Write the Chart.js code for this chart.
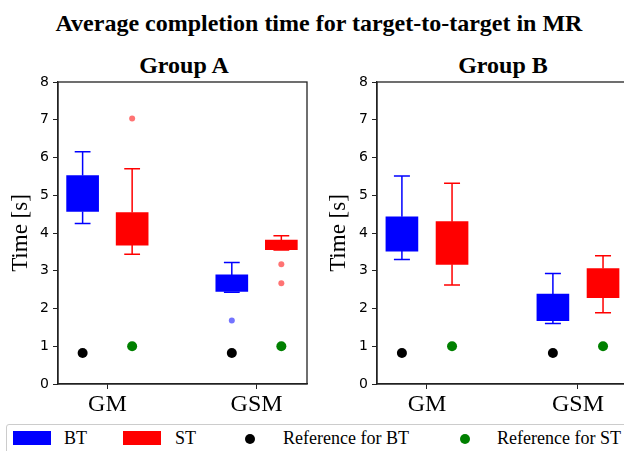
<!DOCTYPE html>
<html>
<head>
<meta charset="utf-8">
<script src="https://cdn.jsdelivr.net/npm/chart.js@4.4.1/dist/chart.umd.min.js"></script>
<style>
  body { margin: 0; width: 624px; height: 451px; overflow: hidden; position: relative; background: #fff; }
  .txt { position: absolute; font-family: 'Liberation Serif', 'Times New Roman', serif; color: #000; white-space: nowrap; }
  canvas { position: absolute; }
  #legend { position: absolute; left: 6px; top: 424px; width: 700px; height: 40px; border: 1px solid #ccc; border-radius: 3px; }
  .sw { position: absolute; }
</style>
</head>
<body>
<div class="txt" style="left:0;width:638px;top:11px;line-height:24px;text-align:center;font-weight:bold;font-size:24px">Average completion time for target-to-target in MR</div>
<div class="txt" style="left:84px;width:200px;top:53px;line-height:24px;text-align:center;font-weight:bold;font-size:24px">Group A</div>
<div class="txt" style="left:403px;width:200px;top:53px;line-height:24px;text-align:center;font-weight:bold;font-size:24px">Group B</div>

<div style="position:absolute;left:0;top:0;width:312px;height:420px"><canvas id="chartA"></canvas></div>
<div style="position:absolute;left:318px;top:0;width:318px;height:420px"><canvas id="chartB"></canvas></div>

<div id="legend"></div>
<div class="sw" style="left:13px;top:431px;width:38px;height:14px;background:#0000ff"></div>
<div class="txt" style="left:64px;top:429px;font-size:18px;line-height:18px">BT</div>
<div class="sw" style="left:123px;top:431px;width:38px;height:14px;background:#ff0000"></div>
<div class="txt" style="left:175px;top:429px;font-size:18px;line-height:18px">ST</div>
<div class="sw" style="left:245px;top:434px;width:10px;height:10px;border-radius:50%;background:#000"></div>
<div class="txt" style="left:283px;top:429px;font-size:18px;line-height:18px">Reference for BT</div>
<div class="sw" style="left:460px;top:434px;width:10px;height:10px;border-radius:50%;background:#008000"></div>
<div class="txt" style="left:497px;top:429px;font-size:18px;line-height:18px">Reference for ST</div>

<script>
const categories = ['GM', 'GSM'];
const yTicks = [0, 1, 2, 3, 4, 5, 6, 7, 8];

// Group A
const aBtLow = [4.25, 2.43];
const aBtQ1 = [4.57, 2.45];
const aBtQ3 = [5.52, 2.89];
const aBtHigh = [6.15, 3.22];
const aBtOutliers = [[], [1.68]];
const aStLow = [3.44, 3.55];
const aStQ1 = [3.68, 3.56];
const aStQ3 = [4.54, 3.81];
const aStHigh = [5.70, 3.93];
const aStOutliers = [[7.03], [3.17, 2.67]];

// Group B
const bBtLow = [3.30, 1.60];
const bBtQ1 = [3.52, 1.68];
const bBtQ3 = [4.43, 2.38];
const bBtHigh = [5.51, 2.93];
const bBtOutliers = [[], []];
const bStLow = [2.62, 1.89];
const bStQ1 = [3.17, 2.29];
const bStQ3 = [4.30, 3.06];
const bStHigh = [5.32, 3.40];
const bStOutliers = [[], []];

// reference times
const refBt = [0.82, 0.82];
const refSt = [1.0, 1.0];

const BLUE = '#0000ff';
const RED = '#ff0000';
const shift = 0.166;
const capHalf = 0.053;

function boxData(q1, q3, dx) {
  return q1.map((v, i) => ({ x: i + dx, y: [v, q3[i]] }));
}

function whiskerData(lo, q1, q3, hi, dx) {
  const pts = [];
  lo.forEach((v, i) => {
    const x = i + dx;
    pts.push({ x, y: q3[i] }, { x, y: hi[i] }, { x, y: null });
    pts.push({ x: x - capHalf, y: hi[i] }, { x: x + capHalf, y: hi[i] }, { x, y: null });
    pts.push({ x, y: q1[i] }, { x, y: v }, { x, y: null });
    pts.push({ x: x - capHalf, y: v }, { x: x + capHalf, y: v }, { x, y: null });
  });
  return pts;
}

function outlierData(outs, dx) {
  const pts = [];
  outs.forEach((list, i) => list.forEach(v => pts.push({ x: i + dx, y: v })));
  return pts;
}

const frame = {
  id: 'frame',
  afterDraw(chart) {
    const { ctx, chartArea: a } = chart;
    ctx.save();
    ctx.strokeStyle = '#222';
    ctx.lineWidth = 1.3;
    ctx.strokeRect(a.left, a.top, a.right - a.left, a.bottom - a.top);
    ctx.restore();
  }
};

function makeChart(id, g, yWidth, padRight) {
  const whisk = (data, color) => ({
    type: 'line', data, borderColor: color, borderWidth: 1.5,
    pointRadius: 0, fill: false, spanGaps: false, tension: 0
  });
  const dots = (data, color, r) => ({
    type: 'scatter', data, backgroundColor: color, borderWidth: 0, pointRadius: r
  });
  return new Chart(document.getElementById(id), {
    type: 'bar',
    data: {
      datasets: [
        whisk(whiskerData(g.btLow, g.btQ1, g.btQ3, g.btHigh, -shift), BLUE),
        whisk(whiskerData(g.stLow, g.stQ1, g.stQ3, g.stHigh, shift), RED),
        { type: 'bar', data: boxData(g.btQ1, g.btQ3, -shift), backgroundColor: BLUE, barThickness: 32, grouped: false },
        { type: 'bar', data: boxData(g.stQ1, g.stQ3, shift), backgroundColor: RED, barThickness: 32, grouped: false },
        dots(outlierData(g.btOut, -shift), 'rgba(0,0,255,0.55)', 3),
        dots(outlierData(g.stOut, shift), 'rgba(255,0,0,0.55)', 3),
        dots(refBt.map((v, i) => ({ x: i - shift, y: v })), '#000', 5),
        dots(refSt.map((v, i) => ({ x: i + shift, y: v })), '#008000', 5)
      ]
    },
    options: {
      responsive: true,
      maintainAspectRatio: false,
      animation: false,
      layout: { padding: { top: 82, right: padRight, left: 0, bottom: 0 } },
      plugins: { legend: { display: false }, tooltip: { enabled: false } },
      scales: {
        x: {
          type: 'linear', min: -0.331, max: 1.338, offset: false,
          afterBuildTicks: s => { s.ticks = categories.map((c, i) => ({ value: i })); },
          afterFit: s => { s.height = 36; },
          ticks: {
            autoSkip: false, color: '#000', padding: 1,
            font: { family: 'Liberation Serif', size: 24 },
            callback: v => categories[v]
          },
          grid: { display: true, drawOnChartArea: false, drawTicks: true, tickLength: 5, color: '#222', offset: false },
          border: { color: '#222', width: 1.3 }
        },
        y: {
          min: 0, max: 8,
          afterBuildTicks: s => { s.ticks = yTicks.map(v => ({ value: v })); },
          afterFit: s => { s.width = yWidth; },
          ticks: { color: '#000', padding: 4, font: { family: 'DejaVu Sans', size: 14 } },
          grid: { display: true, drawOnChartArea: false, drawTicks: true, tickLength: 5, color: '#222' },
          border: { color: '#222', width: 1.3 },
          title: {
            display: true, text: 'Time [s]', color: '#000', padding: { top: 7, bottom: 0 },
            font: { family: 'Liberation Serif', size: 23 }
          }
        }
      }
    },
    plugins: [frame]
  });
}

makeChart('chartA', {
  btLow: aBtLow, btQ1: aBtQ1, btQ3: aBtQ3, btHigh: aBtHigh, btOut: aBtOutliers,
  stLow: aStLow, stQ1: aStQ1, stQ3: aStQ3, stHigh: aStHigh, stOut: aStOutliers
}, 58, 2);

makeChart('chartB', {
  btLow: bBtLow, btQ1: bBtQ1, btQ3: bBtQ3, btHigh: bBtHigh, btOut: bBtOutliers,
  stLow: bStLow, stQ1: bStQ1, stQ3: bStQ3, stHigh: bStHigh, stOut: bStOutliers
}, 59, 7);
</script>
</body>
</html>
